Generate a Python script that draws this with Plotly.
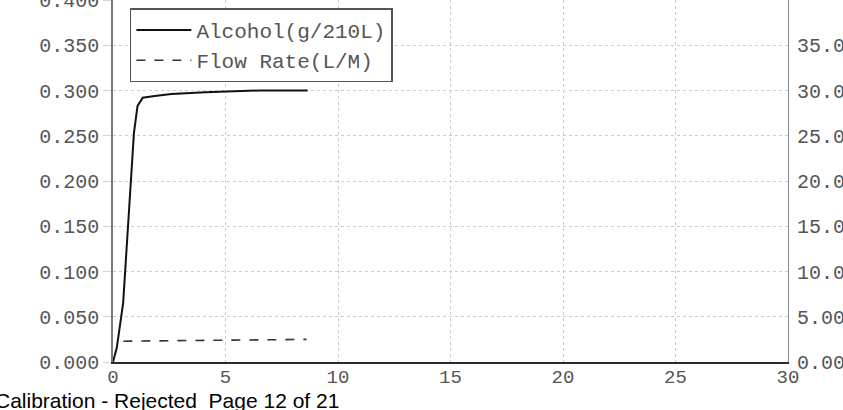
import plotly.graph_objects as go

# ---- data ----
alcohol_time = [0, 0.17, 0.45, 0.93, 1.09, 1.32, 1.85, 2.6, 4.1, 5.0, 6.5, 8.65]
alcohol_value = [0, 0.016, 0.065, 0.253, 0.283, 0.292, 0.294, 0.296, 0.298, 0.299, 0.300, 0.300]

flow_time = [0.46, 2.0, 4.0, 6.0, 8.6]
flow_value = [2.3, 2.35, 2.4, 2.45, 2.5]

x_ticks = [0, 5, 10, 15, 20, 25, 30]
y_ticks = [0, 0.05, 0.10, 0.15, 0.20, 0.25, 0.30, 0.35, 0.40]
y_ticktext = ["0.000", "0.050", "0.100", "0.150", "0.200", "0.250", "0.300", "0.350", "0.400"]
y2_ticks = [0, 5, 10, 15, 20, 25, 30, 35]
y2_ticktext = ["0.00", "5.00", "10.00", "15.00", "20.00", "25.00", "30.00", "35.00"]

footer_text = "Calibration - Rejected  Page 12 of 21"

MONO = "Liberation Mono, Courier New, monospace"
TICKCOL = "#555555"

fig = go.Figure()
fig.add_trace(go.Scatter(
    x=alcohol_time, y=alcohol_value, mode="lines", name="Alcohol(g/210L)",
    line=dict(color="#111111", width=2.0),
))
fig.add_trace(go.Scatter(
    x=flow_time, y=flow_value, mode="lines", name="Flow Rate(L/M)", yaxis="y2",
    line=dict(color="#333333", width=1.6, dash="dash"),
))

fig.update_layout(
    width=843, height=410,
    margin=dict(l=113, r=55, t=0, b=48),
    paper_bgcolor="white", plot_bgcolor="white",
    font=dict(family=MONO, color=TICKCOL, size=19),
    xaxis=dict(
        range=[0, 30], tickvals=x_ticks, ticktext=[str(v) for v in x_ticks],
        showgrid=True, gridcolor="#cccccc", griddash="dot", gridwidth=1,
        showline=True, linecolor="#2a2a2a", linewidth=2,
        ticks="", ticklabelstandoff=-4, ticklabeloverflow="allow",
        zeroline=False, automargin=False,
        tickfont=dict(family=MONO, size=19, color=TICKCOL),
    ),
    yaxis=dict(
        range=[0, 0.4], tickvals=y_ticks, ticktext=y_ticktext,
        showgrid=True, gridcolor="#cccccc", griddash="dot", gridwidth=1,
        showline=True, linecolor="#7a7a7a", linewidth=1.5,
        ticks="outside", ticklen=8, tickcolor="#d4d4d4",
        ticklabeloverflow="allow",
        zeroline=False, automargin=False,
        tickfont=dict(family=MONO, size=20, color=TICKCOL),
    ),
    yaxis2=dict(
        range=[0, 40], tickvals=y2_ticks, ticktext=y2_ticktext,
        overlaying="y", side="right", showgrid=False,
        showline=True, linecolor="#8a8a8a", linewidth=1.2,
        ticks="outside", ticklen=4, tickcolor="rgba(0,0,0,0)",
        ticklabeloverflow="allow",
        zeroline=False, automargin=False,
        tickfont=dict(family=MONO, size=20, color=TICKCOL),
    ),
    legend=dict(
        x=0.025, y=0.977, xanchor="left", yanchor="top",
        bgcolor="white", bordercolor="#555555", borderwidth=1.5,
        font=dict(family=MONO, size=21, color=TICKCOL),
        itemwidth=55, tracegroupgap=0,
    ),
    showlegend=True,
)

fig.add_annotation(
    text=footer_text, xref="paper", yref="paper",
    x=-120 / 675, y=-(400 - 362) / 362, xanchor="left", yanchor="middle",
    showarrow=False, font=dict(family="Liberation Sans, Arial, sans-serif", size=21, color="#000000"),
)

fig.write_html("out.html", config={"displayModeBar": False},
               post_script="document.body.style.margin='0';")
